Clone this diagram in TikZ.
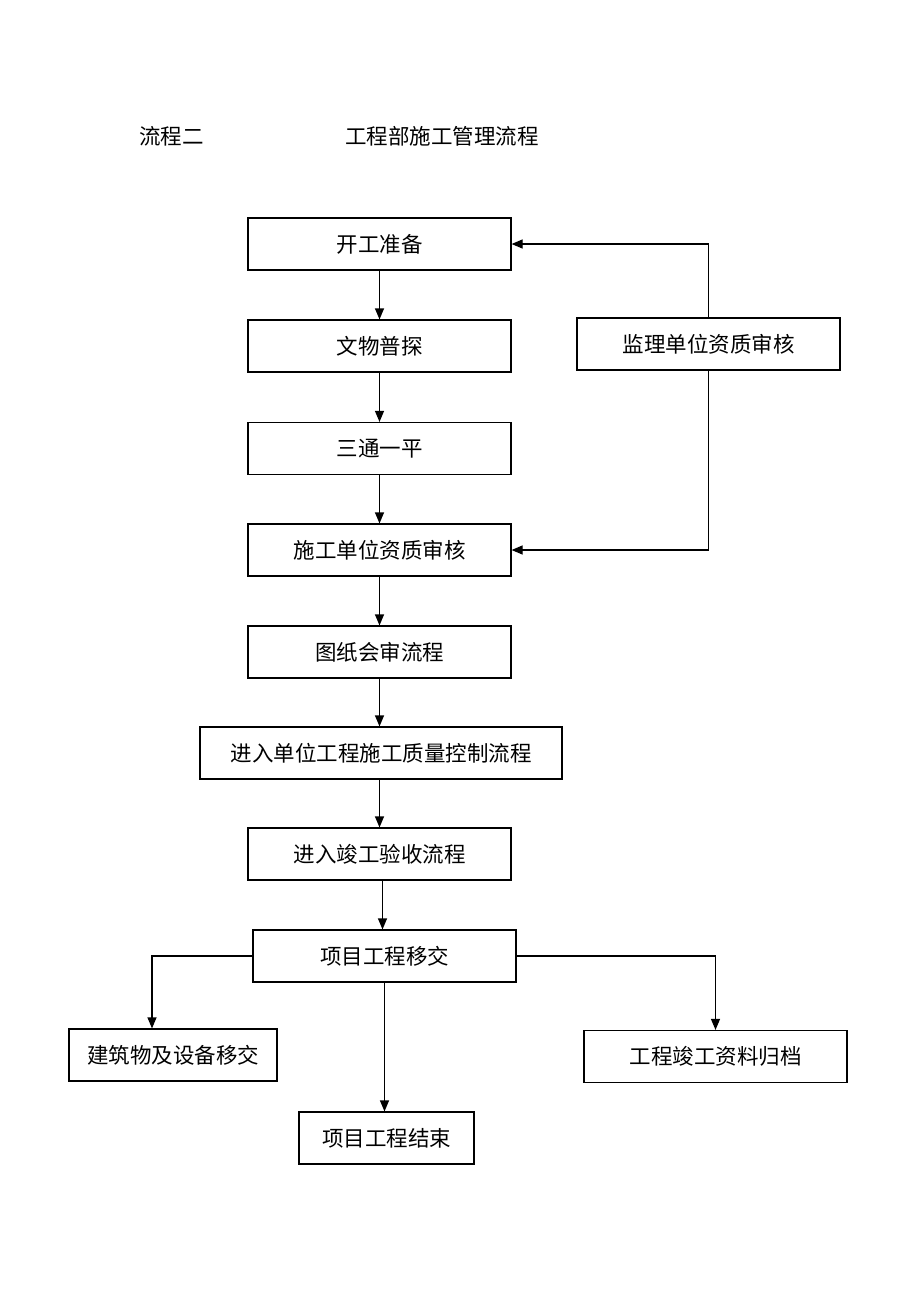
\documentclass[tikz,border=0pt]{standalone}
\usepackage{fontspec}
\newfontfamily\cjk{Noto Sans CJK SC}
\usetikzlibrary{arrows.meta, calc, positioning}

\tikzset{
  box/.style={draw, line width=1.2pt, minimum height=52pt, minimum width=263pt,
    inner sep=0pt, font=\cjk\fontsize{21.5}{25}\selectfont},
  arr/.style={-{Triangle[length=11pt, width=9pt]}, line width=1.2pt},
  title/.style={font=\cjk\fontsize{21.5}{25}\selectfont, inner sep=0pt}
}

\begin{document}
\begin{tikzpicture}[x=1pt, y=-1pt]
\useasboundingbox (0,0) rectangle (920,1302);

% heading
\node[title] (flowno) at (171.5,136) {流程二};
\node[title] (flowname) at (442,136) {工程部施工管理流程};

% main chain
\node[box] (start)   at (379.5,244)  {开工准备};
\node[box] (wenwu)   at (379.5,346)  {文物普探};
\node[box] (santong) at (379.5,448.5) {三通一平};
\node[box] (shigong) at (379.5,550)  {施工单位资质审核};
\node[box] (tuzhi)   at (379.5,652)  {图纸会审流程};
\node[box, minimum width=362pt] (jinru) at (381,753) {进入单位工程施工质量控制流程};
\node[box] (jungong) at (379.5,854)  {进入竣工验收流程};
\node[box] (yijiao)  at (384.5,956)  {项目工程移交};

% branches
\node[box, minimum width=208pt] (jianzhu) at (173,1055) {建筑物及设备移交};
\node[box] (ziliao)  at (715.5,1056.5) {工程竣工资料归档};
\node[box, minimum width=175pt] (jieshu) at (386.5,1138) {项目工程结束};

% supervisor check
\node[box] (jianli) at (708.5,344) {监理单位资质审核};

\draw[arr] (start.south) -- (wenwu.north);
\draw[arr] (wenwu.south) -- (santong.north);
\draw[arr] (santong.south) -- (shigong.north);
\draw[arr] (shigong.south) -- (tuzhi.north);
\draw[arr] (tuzhi.south) -- (tuzhi.south |- jinru.north);
\draw[arr] (jinru.south -| jungong.north) -- (jungong.north);
\draw[arr] ([xshift=3pt]jungong.south) -- ([xshift=3pt]jungong.south |- yijiao.north);

\coordinate (jzIn) at ([xshift=-21pt]jianzhu.north);
\draw[arr] (yijiao.west) -| (jzIn);
\draw[arr] (yijiao.east) -| (ziliao.north);
\draw[arr] (yijiao.south) -- (yijiao.south |- jieshu.north);

\draw[arr] (jianli.north) |- (start.east);
\draw[arr] (jianli.south) |- (shigong.east);
\end{tikzpicture}
\end{document}
